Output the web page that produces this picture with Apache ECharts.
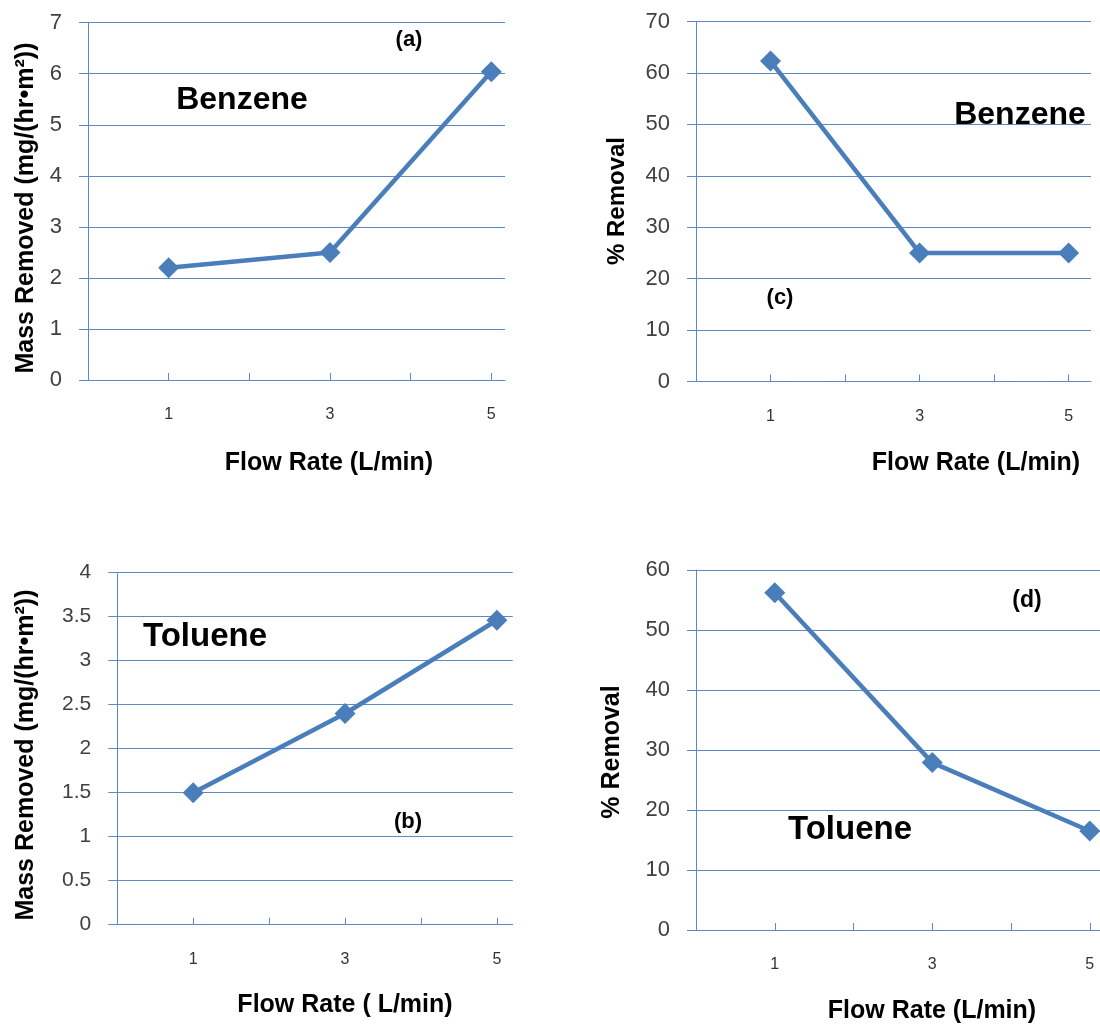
<!DOCTYPE html>
<html>
<head>
<meta charset="utf-8">
<script src="https://cdn.jsdelivr.net/npm/echarts@6/dist/echarts.min.js"></script>
<style>
html,body{margin:0;padding:0;background:#fff;}
#main{width:1100px;height:1030px;}
</style>
</head>
<body>
<div id="main"></div>
<script>
// ---- data ----
const flowRates = [1, 3, 5];
const xTickMarks = [1, 2, 3, 4, 5];
const xTickLabels = [1, 3, 5];
const benzeneMass = [2.2, 2.5, 6.04];      // (a)
const tolueneMass = [1.5, 2.4, 3.46];      // (b)
const benzeneRemoval = [62.3, 25.0, 25.0]; // (c)
const tolueneRemoval = [56.2, 27.9, 16.5]; // (d)

const BLUE = '#4a7ebb';
const GRID = '#5b8ac6';
const FONT = '"Liberation Sans", Arial, sans-serif';

const panels = [
  {grid:{left:88, top:22.7, width:417, height:357.3}, xmax:5.17, ymax:7, yint:1, yfs:22, data:benzeneMass},
  {grid:{left:696, top:21.5, width:395, height:360}, xmax:5.3, ymax:70, yint:10, yfs:22, data:benzeneRemoval},
  {grid:{left:117.3, top:572.7, width:395.5, height:352}, xmax:5.21, ymax:4, yint:0.5, yfs:21, data:tolueneMass},
  {grid:{left:696, top:570, width:404, height:360}, xmax:5.13, ymax:60, yint:10, yfs:22, data:tolueneRemoval}
];

const grids = [], xAxes = [], yAxes = [], series = [];
panels.forEach((p, i) => {
  grids.push(p.grid);
  xAxes.push({
    gridIndex:i, type:'value', min:0, max:p.xmax, interval:1,
    axisLine:{show:true, lineStyle:{color:GRID, width:1}},
    axisTick:{show:true, inside:true, length:7, customValues:xTickMarks, lineStyle:{color:GRID, width:1}},
    axisLabel:{show:true, customValues:xTickLabels, margin:27, fontSize:16, color:'#333', fontFamily:FONT},
    splitLine:{show:false}
  });
  yAxes.push({
    gridIndex:i, type:'value', min:0, max:p.ymax, interval:p.yint,
    axisLine:{show:true, lineStyle:{color:GRID, width:1}},
    axisTick:{show:true, inside:false, length:9, lineStyle:{color:GRID, width:1}},
    axisLabel:{margin:26, fontSize:p.yfs, color:'#404040', fontFamily:FONT},
    splitLine:{show:true, lineStyle:{color:GRID, width:1}}
  });
  series.push({
    type:'line', xAxisIndex:i, yAxisIndex:i,
    data: flowRates.map((x, k) => [x, p.data[k]]),
    symbol:'diamond', symbolSize:21,
    lineStyle:{color:BLUE, width:4.5},
    itemStyle:{color:BLUE},
    clip:false, animation:false
  });
});

function txt(x, y, s, size, rot) {
  return {
    type:'text', x:x, y:y, rotation: rot ? Math.PI/2 : 0,
    style:{text:s, fill:'#000', font:'bold ' + size + 'px ' + FONT, align:'center', verticalAlign:'middle'}
  };
}

const graphics = [
  // (a)
  txt(409, 40, '(a)', 22), txt(242, 100, 'Benzene', 32),
  txt(329, 463, 'Flow Rate (L/min)', 25), txt(26, 208, 'Mass Removed (mg/(hr\u2022m\u00b2))', 25, true),
  // (c)
  txt(780, 298, '(c)', 22), txt(1020, 115, 'Benzene', 32),
  txt(976, 463, 'Flow Rate (L/min)', 25), txt(617, 201, '% Removal', 24, true),
  // (b)
  txt(408, 822, '(b)', 22), txt(205, 637, 'Toluene', 33),
  txt(345, 1005, 'Flow Rate ( L/min)', 25), txt(26, 755, 'Mass Removed (mg/(hr\u2022m\u00b2))', 25, true),
  // (d)
  txt(1027, 601, '(d)', 23), txt(850, 830, 'Toluene', 33),
  txt(932, 1011, 'Flow Rate (L/min)', 25), txt(612, 752, '% Removal', 25, true)
];

const chart = echarts.init(document.getElementById('main'), null, {renderer:'canvas'});
chart.setOption({
  animation:false,
  backgroundColor:'#fff',
  grid:grids, xAxis:xAxes, yAxis:yAxes, series:series,
  graphic:graphics
});
</script>
</body>
</html>
